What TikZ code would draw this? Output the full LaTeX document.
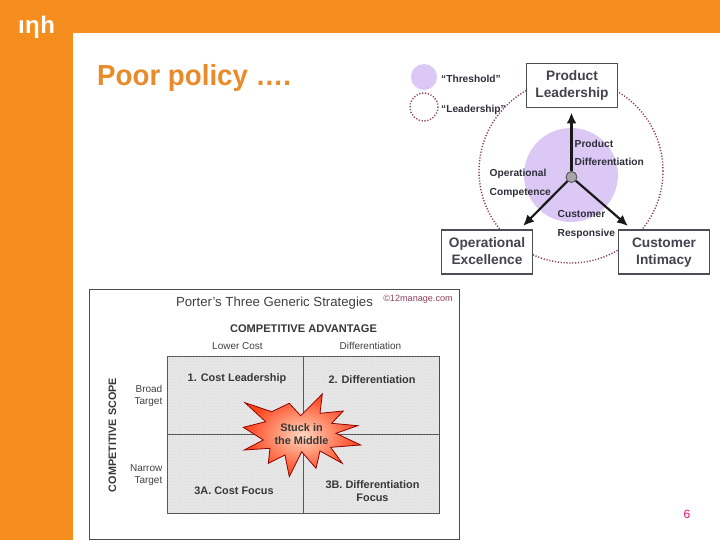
\documentclass[tikz,border=0pt]{standalone}
\usepackage{fontspec}
\setmainfont{Liberation Sans}
\usetikzlibrary{arrows.meta,patterns}
\definecolor{inhorange}{HTML}{F58D1F}
\definecolor{titleorange}{HTML}{E98B2A}
\definecolor{lilac}{HTML}{DCC8F5}
\definecolor{dotred}{HTML}{8E3F5C}
\definecolor{inkdark}{HTML}{2E2E3A}
\newcommand{\boxstrut}{\rule[-3pt]{0pt}{14pt}}
\tikzset{
  stratbox/.style={draw=inkdark!85,line width=1.6pt,fill=white,minimum width=91pt,minimum height=44pt,inner sep=0pt,align=center,text=inkdark!90,font=\fontsize{13.7}{17}\selectfont\bfseries},
  spoke/.style={-{Latex[length=11pt,width=10pt]},line width=2.2pt,color=black!90},
  ringdot/.style={draw=dotred,line width=1.4pt,dash pattern=on 1.2pt off 1.7pt},
  smalllab/.style={anchor=west,inner sep=0pt,align=left,text=inkdark,font=\fontsize{10.2}{18.5}\selectfont\bfseries},
  celllab/.style={inner sep=0pt,align=center,text=black!78,font=\fontsize{10.9}{13.5}\selectfont\bfseries},
  thinlab/.style={inner sep=0pt,text=black!75,font=\fontsize{10}{12}\selectfont}
}
\begin{document}
\begin{tikzpicture}[x=1pt,y=-1pt]
\useasboundingbox (0,0) rectangle (720,540);

\fill[inhorange] (0,0) rectangle (720,33); % top band
\fill[inhorange] (0,0) rectangle (73,540); % left band

\node[anchor=base,text=white,inner sep=0pt,font=\fontsize{24}{24}\selectfont\bfseries] (logo) at (36.5,34) {ı\hspace{0.5pt}η\hspace{0.5pt}h};
\node[anchor=west,inner sep=0pt,text=titleorange,font=\fontsize{29}{30}\selectfont\bfseries] (title) at (97,78) {\scalebox{0.955}[1]{Poor policy ….}};
\node[text=magenta!75!red,inner sep=0pt,font=\fontsize{12}{12}\selectfont] (pagenum) at (687,514.5) {6};

% upper right figure
\fill[lilac] (571,175) circle (47);
\draw[ringdot] (571,171) circle (92);
\fill[lilac] (424,77) circle (13);
\draw[ringdot] (424,107) circle (14);

\node[stratbox] (product) at (572,85.5) {Product\boxstrut\\Leadership\boxstrut};
\node[stratbox] (operational) at (487,252) {Operational\boxstrut\\Excellence\boxstrut};
\node[stratbox] (customer) at (664,252) {Customer\boxstrut\\Intimacy\boxstrut};

\node[smalllab] (threshold) at (441,78.5) {“Threshold”};
\node[smalllab] (leadership) at (441,109.5) {“Leadership”};
\node[smalllab] (prodlab) at (574.5,153) {Product\\Differentiation};
\node[smalllab] (oplab) at (489.5,183.5) {Operational\\Competence};
\node[smalllab] (custlab) at (557.5,224.5) {Customer\\Responsive};

\node[circle,draw=black!70,fill=black!35,line width=0.8pt,minimum size=11pt,inner sep=0pt] (hub) at (571.5,177) {};
\coordinate (tipup) at (571.5,112.5);
\coordinate (tipleft) at (523,226);
\coordinate (tipright) at (628,226);
\draw[spoke] (hub) -- (tipup);
\draw[spoke] (hub) -- (tipleft);
\draw[spoke] (hub) -- (tipright);

% lower left figure
\node[draw=black!70,line width=1pt,minimum width=369.5pt,minimum height=249.5pt,inner sep=0pt] (frame) at (274.5,414.5) {};
\node[draw=black!70,fill=black!9,postaction={pattern=crosshatch dots,pattern color=black!16},line width=1pt,minimum width=272pt,minimum height=157pt,inner sep=0pt] (grid) at (303,434.5) {};
\draw[black!65,line width=1pt] (grid.north) -- (grid.south);
\draw[black!65,line width=1pt] (grid.west) -- (grid.east);

\node[inner sep=0pt,text=black!75,font=\fontsize{13.2}{15}\selectfont] (porter) at (274.5,303) {Porter’s Three Generic Strategies};
\node[inner sep=0pt,text=dotred,font=\fontsize{9.1}{10}\selectfont] (stamp) at (418,299.5) {©12manage.com};
\node[celllab,font=\fontsize{11.1}{12}\selectfont\bfseries] (advantage) at (303.5,328.5) {COMPETITIVE ADVANTAGE};
\node[thinlab] (lower) at (237.5,346.5) {Lower Cost};
\node[thinlab] (diffhead) at (370.5,346) {Differentiation};
\node[thinlab,anchor=east,align=right] (broad) at (162.5,395.5) {Broad\\Target};
\node[thinlab,anchor=east,align=right] (narrow) at (162.5,475.5) {Narrow\\Target};
\node[celllab,rotate=90,font=\fontsize{10.8}{12}\selectfont\bfseries] (scope) at (112.5,435) {COMPETITIVE SCOPE};

\node[celllab] (cost) at (237,378.5) {1. Cost Leadership};
\node[celllab] (diff) at (372,379.5) {2. Differentiation};
\node[celllab] (costfocus) at (234,491) {3A. Cost Focus};
\node[celllab] (difffocus) at (372.5,491) {3B. Differentiation\\Focus};

\path[draw=black!45!red,line width=0.8pt,inner color=red!25!orange!25!white,outer color=red!65!orange!90!white] (245,402.7) -- (271.7,411.7) -- (289.3,403.3) -- (300.7,415.7) -- (322.3,394) -- (320,413.3) -- (343.3,411) -- (331.7,423.3) -- (357.7,425.7) -- (336,433.3) -- (360.7,445) -- (330.7,447.3) -- (342.3,463.3) -- (320,451) -- (316,468.3) -- (301.7,451.7) -- (289.3,476.7) -- (285,455) -- (268.3,463.3) -- (270,448.3) -- (244.3,450) -- (263.3,440) -- (243.3,427.3) -- (265.7,421.7) -- cycle; % star
\node[celllab] (stuck) at (301.5,434) {Stuck in\\the Middle};

\end{tikzpicture}
\end{document}
